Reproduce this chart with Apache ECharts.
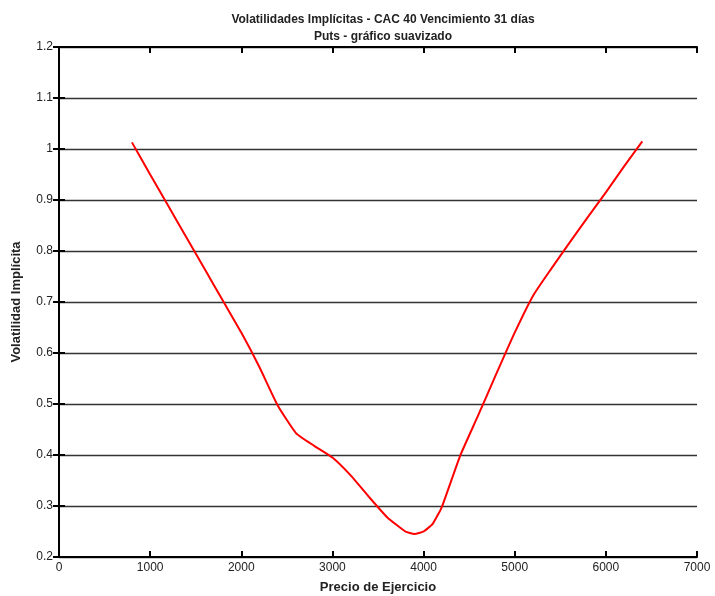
<!DOCTYPE html>
<html><head><meta charset="utf-8">
<script src="https://cdn.jsdelivr.net/npm/echarts@6/dist/echarts.min.js"></script>
<style>html,body{margin:0;padding:0;background:#fff}#c{width:715px;height:596px}</style>
</head><body><div id="c"></div>
<script>
const titleText = 'Volatilidades Implícitas - CAC 40 Vencimiento 31 días\nPuts - gráfico suavizado';
const xName = 'Precio de Ejercicio';
const yName = 'Volatilidad Implícita';
const strikes = [800,1000,1200,1400,1600,1800,2000,2200,2400,2600,2800,3000,3200,3400,3600,3800,3900,4000,4100,4200,4400,4600,4800,5000,5200,5400,5600,5800,6000,6200,6400];
const vols = [1.013,0.950,0.888,0.826,0.764,0.702,0.640,0.572,0.497,0.443,0.418,0.395,0.360,0.318,0.278,0.250,0.245,0.250,0.265,0.298,0.398,0.478,0.560,0.640,0.712,0.765,0.816,0.866,0.915,0.966,1.015];

const chart = echarts.init(document.getElementById('c'));
const font = 'Liberation Sans, Arial, sans-serif';
const lineStyle = {color:'#000', width:2};
chart.setOption({
  animation:false,
  title:{text:titleText, left:378, textAlign:'center', top:6,
    textStyle:{fontFamily:font, fontSize:12, fontWeight:'bold', color:'#222', lineHeight:17}},
  grid:{left:59, right:18, top:47, bottom:39, containLabel:false, outerBoundsMode:'none'},
  xAxis:[{type:'value', min:0, max:7000, interval:1000, name:xName, nameLocation:'middle', nameGap:24,
      nameTextStyle:{fontFamily:font, fontSize:13, fontWeight:'bold', color:'#222'},
      axisLine:{lineStyle}, axisTick:{inside:true, length:6, lineStyle},
      axisLabel:{fontFamily:font, fontSize:12, color:'#222', margin:5, formatter:v=>String(v)}, splitLine:{show:false}},
    {type:'value', position:'top', min:0, max:7000, interval:1000,
      axisLine:{lineStyle}, axisTick:{inside:true, length:6, lineStyle},
      axisLabel:{show:false}, splitLine:{show:false}}],
  yAxis:[{type:'value', min:0.2, max:1.2, interval:0.1, name:yName, nameLocation:'middle', nameGap:36,
      nameTextStyle:{fontFamily:font, fontSize:13, fontWeight:'bold', color:'#222'},
      axisLine:{lineStyle}, axisTick:{inside:true, length:6, lineStyle},
      axisLabel:{fontFamily:font, fontSize:12, color:'#222', margin:6,
        formatter:v=>String(Math.round(v*10)/10)},
      splitLine:{show:true, lineStyle:{color:'#333', width:1.3}}},
    {type:'value', position:'right', min:0.2, max:1.2, interval:0.1,
      axisLine:{lineStyle}, axisTick:{inside:true, length:6, lineStyle},
      axisLabel:{show:false}, splitLine:{show:false}}],
  series:[{type:'line', xAxisIndex:0, yAxisIndex:0, data:strikes.map((x,i)=>[x,vols[i]]),
    showSymbol:false, smooth:0.15, lineStyle:{color:'#ff0000', width:2}}]
});
</script></body></html>
